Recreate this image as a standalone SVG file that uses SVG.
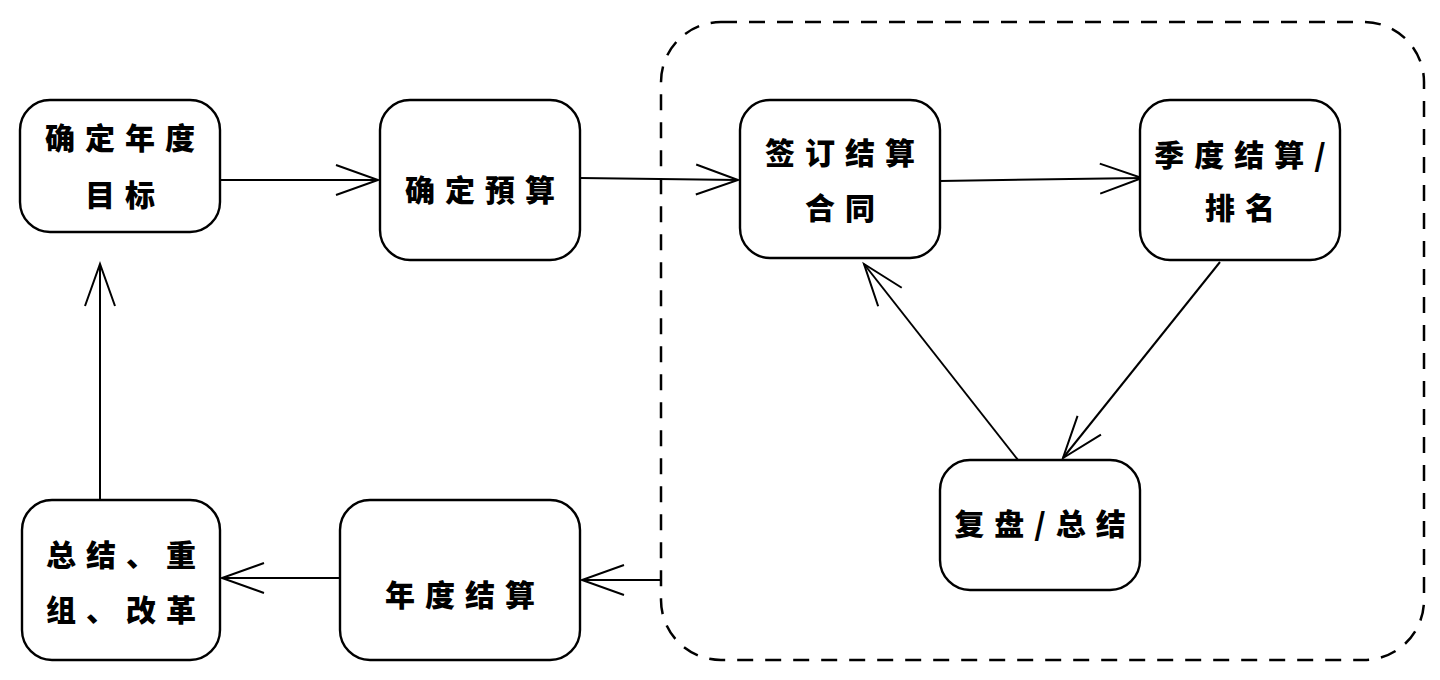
<svg xmlns="http://www.w3.org/2000/svg" width="1440" height="680" viewBox="0 0 1440 680">
<style>
.box{fill:#fff;stroke:#000;stroke-width:2.4}
.t{font-family:"Noto Sans CJK SC","Noto Sans CJK JP",sans-serif;font-size:30px;font-weight:900;fill:#000;text-anchor:middle;letter-spacing:10px}
.c{fill:none;stroke:#000;stroke-width:2}
</style>
<defs>
<marker id="ah" markerUnits="userSpaceOnUse" markerWidth="50" markerHeight="40" viewBox="-45 -20 50 40" refX="0" refY="0" orient="auto">
<path d="M-42,-15 L0,0 L-42,15" fill="none" stroke="#000" stroke-width="2"/>
</marker>
</defs>
<rect x="661" y="22" width="763" height="638" rx="60" fill="none" stroke="#000" stroke-width="2.5" stroke-dasharray="16 12"/>
<g id="connectors">
<line class="c" x1="220" y1="180" x2="378" y2="180" marker-end="url(#ah)"/>
<line class="c" x1="580" y1="178" x2="738" y2="180" marker-end="url(#ah)"/>
<line class="c" x1="940" y1="181" x2="1142" y2="178" marker-end="url(#ah)"/>
<line class="c" x1="1220" y1="262" x2="1063" y2="458" marker-end="url(#ah)"/>
<line class="c" x1="1018" y1="460" x2="864" y2="264" marker-end="url(#ah)"/>
<line class="c" x1="662" y1="580" x2="582" y2="580" marker-end="url(#ah)"/>
<line class="c" x1="340" y1="578" x2="222" y2="578" marker-end="url(#ah)"/>
<line class="c" x1="100" y1="500" x2="100" y2="264" marker-end="url(#ah)"/>
</g>
<g id="n1"><rect class="box" x="20" y="100" width="200" height="132" rx="30"/>
<text class="t" x="125" y="149">确定年度</text><text class="t" x="125" y="206">目标</text></g>
<g id="n2"><rect class="box" x="380" y="100" width="200" height="160" rx="30"/>
<text class="t" x="485" y="201">确定預算</text></g>
<g id="n3"><rect class="box" x="740" y="100" width="200" height="158" rx="30"/>
<text class="t" x="845" y="164">签订结算</text><text class="t" x="845" y="219">合同</text></g>
<g id="n4"><rect class="box" x="1140" y="100" width="200" height="160" rx="30"/>
<text class="t" x="1245" y="166">季度结算/</text><text class="t" x="1245" y="219">排名</text></g>
<g id="n5"><rect class="box" x="940" y="460" width="200" height="130" rx="30"/>
<text class="t" x="1045" y="535">复盘/总结</text></g>
<g id="n6"><rect class="box" x="340" y="500" width="240" height="160" rx="30"/>
<text class="t" x="465" y="606">年度结算</text></g>
<g id="n7"><rect class="box" x="22" y="500" width="198" height="160" rx="30"/>
<text class="t" x="126" y="566">总结、重</text><text class="t" x="126" y="621">组、改革</text></g>
</svg>
